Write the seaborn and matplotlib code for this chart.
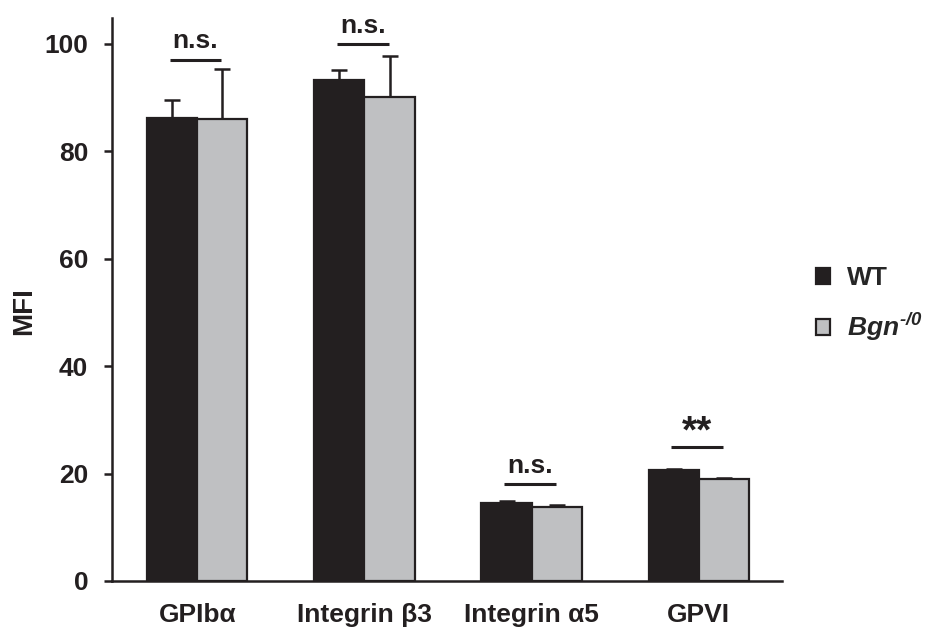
import matplotlib
matplotlib.use("Agg")
import matplotlib.pyplot as plt
import seaborn as sns
import pandas as pd
import numpy as np
from matplotlib.patches import Patch

categories = ["GPIbα", "Integrin β3", "Integrin α5", "GPVI"]
groups = ["WT", "Bgn"]
wt_mean = [86.2, 93.3, 14.5, 20.6]
wt_err = [3.4, 1.8, 0.3, 0.3]
bgn_mean = [86.0, 90.2, 13.8, 18.9]
bgn_err = [9.3, 7.5, 0.4, 0.3]
sig_labels = ["n.s.", "n.s.", "n.s.", "**"]
sig_heights = [97.1, 100.0, 18.0, 24.9]

sns.set_style("white")
plt.rcParams["font.family"] = ["Liberation Sans", "DejaVu Sans"]
plt.rcParams["font.weight"] = "bold"
plt.rcParams["mathtext.fontset"] = "custom"
plt.rcParams["mathtext.rm"] = "Liberation Sans:bold:italic"
plt.rcParams["mathtext.it"] = "Liberation Sans:bold:italic"
plt.rcParams["mathtext.bf"] = "Liberation Sans:bold:italic"

df = pd.DataFrame({
    "cat": categories * 2,
    "grp": [groups[0]] * 4 + [groups[1]] * 4,
    "val": wt_mean + bgn_mean,
    "err": wt_err + bgn_err,
})

dark = "#231f20"
grey = "#bfc0c2"

fig = plt.figure(figsize=(9.25, 6.28), dpi=100)
ax = fig.add_axes([0.121, 0.075, 0.724, 0.896])
sns.barplot(data=df, x="cat", y="val", hue="grp", order=categories,
            hue_order=groups, palette=[dark, grey], width=0.6,
            errorbar=None, edgecolor=dark, linewidth=1.6, ax=ax,
            legend=False, saturation=1)

# error bars (upper only) at bar centres
bars = [p for p in ax.patches]
xs = [b.get_x() + b.get_width() / 2 for b in bars]
hs = [b.get_height() for b in bars]
errs = list(df["err"])
ax.errorbar(xs, hs, yerr=[np.zeros(len(errs)), errs], fmt="none",
            ecolor=dark, elinewidth=1.8, capsize=6, capthick=1.8, zorder=0)

# significance lines
for i, (lab, h) in enumerate(zip(sig_labels, sig_heights)):
    ax.plot([i - 0.165, i + 0.145], [h, h], color=dark, lw=2.2,
            solid_capstyle="butt")
    if lab == "n.s.":
        ax.text(i - 0.01, h + 1.2, lab, ha="center", va="bottom",
                fontsize=19, fontweight="bold", color=dark)
    else:
        ax.text(i - 0.01, h - 0.6, lab, ha="center", va="bottom",
                fontsize=28, fontweight="bold", color=dark)

ax.set_xlim(-0.51, 3.495)
ax.set_ylim(0, 104.8)
ax.set_yticks([0, 20, 40, 60, 80, 100])
ax.set_xlabel("")
ax.set_ylabel("MFI", fontsize=20, fontweight="bold", color=dark)
ax.yaxis.set_label_coords(-0.112, 0.48)
for s in ["top", "right"]:
    ax.spines[s].set_visible(False)
for s in ["left", "bottom"]:
    ax.spines[s].set_linewidth(1.8)
    ax.spines[s].set_color(dark)
ax.tick_params(axis="y", direction="out", length=6, width=1.8, pad=11,
               labelsize=19, colors=dark, left=True)
ax.tick_params(axis="x", length=0, pad=16, labelsize=19, colors=dark)
for t in ax.get_xticklabels() + ax.get_yticklabels():
    t.set_fontweight("bold")

handles = [Patch(facecolor=dark, edgecolor=dark, linewidth=1.6),
           Patch(facecolor=grey, edgecolor=dark, linewidth=1.6)]
fig.legend(handles, ["WT", r"$Bgn^{\text{-}/0}$"], loc="center left",
           bbox_to_anchor=(0.876, 0.515), frameon=False,
           handlelength=0.55, handleheight=0.55, handletextpad=0.65,
           labelspacing=0.8, prop={"weight": "bold", "size": 19},
           borderpad=0.2, borderaxespad=0)

fig.savefig("out.png", dpi=100)
